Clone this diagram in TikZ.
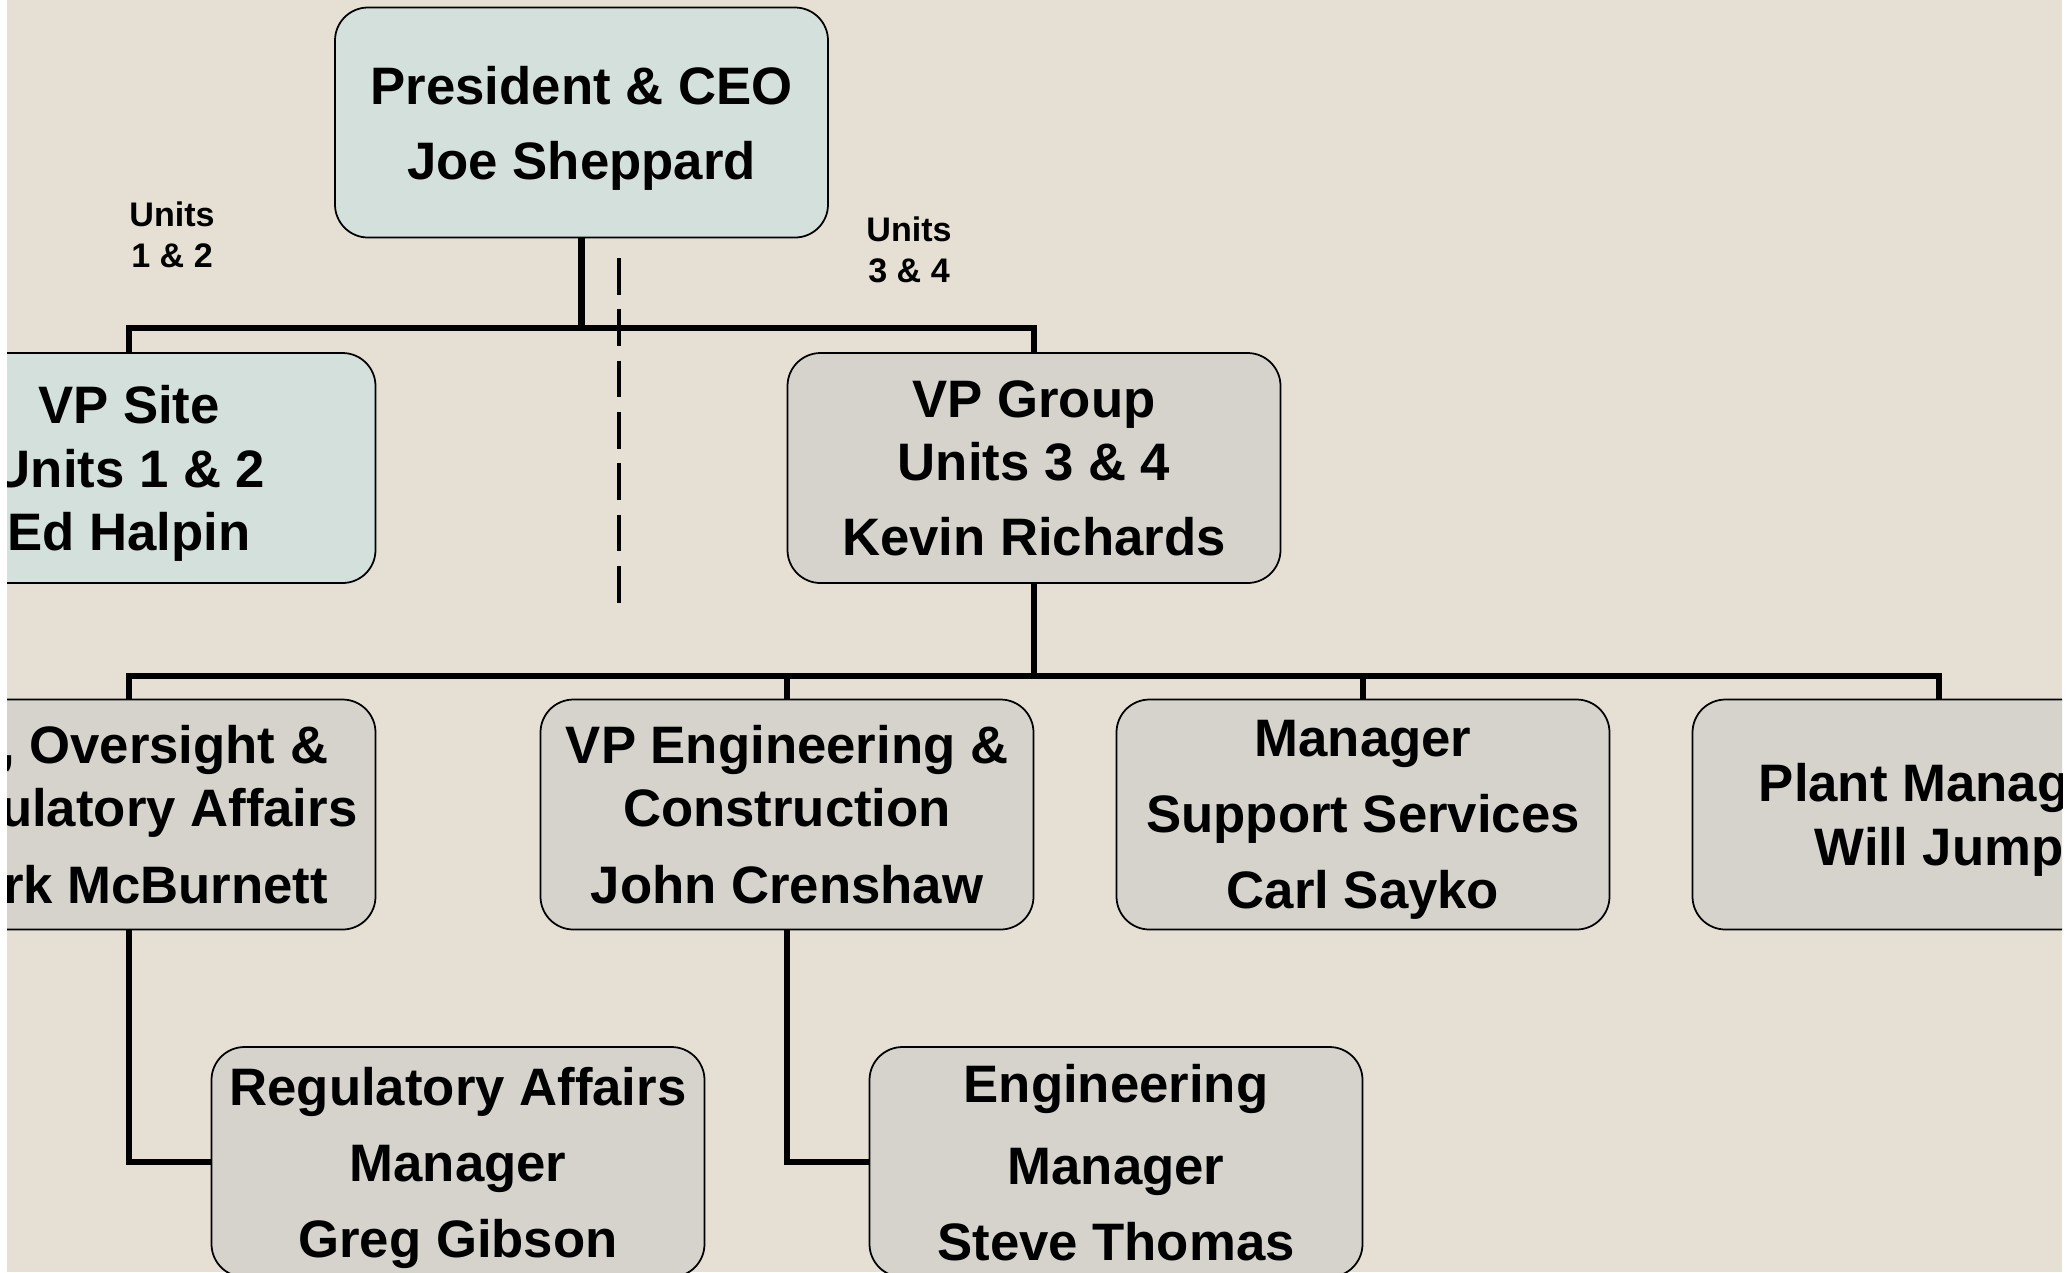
\documentclass[tikz,border=0pt]{standalone}
\usepackage{fontspec}
\setmainfont{Liberation Sans}
\usepackage{xcolor}
\usepackage{tikz}
\usetikzlibrary{positioning}

\definecolor{paper}{HTML}{E6DFD4}
\definecolor{bluebox}{HTML}{D3E0DC}
\definecolor{graybox}{HTML}{D6D3CD}

\begin{document}
\begin{tikzpicture}[
  box/.style={draw=black, line width=0.5pt, rounded corners=3.3mm, minimum width=4.93cm, minimum height=2.3cm, align=center, inner sep=0pt, text depth=0pt, execute at begin node={\rule{0pt}{12pt}}, font=\bfseries\fontsize{15}{18}\selectfont},
  bluefill/.style={box, fill=bluebox},
  grayfill/.style={box, fill=graybox},
  conn/.style={black, line width=1.8pt},
  dashline/.style={black, line width=1.1pt, dash pattern=on 3.67mm off 1.46mm},
  unitlabel/.style={align=center, inner sep=0pt, font=\bfseries\fontsize{9.7}{11.6}\selectfont}]
\useasboundingbox (0,0) rectangle (20.72,-12.72);
\fill[white] (0,0) rectangle (20.72,-12.72);
\clip (0.07,0) rectangle (20.62,-12.72);
\fill[paper] (0.07,0) rectangle (20.62,-12.72);

\node[bluefill] (ceo) at (5.815,-1.225) {President \& CEO\\[3.3pt]Joe Sheppard};
\node[bluefill] (site) at (1.29,-4.68) {VP Site\\Units 1 \& 2\\Ed Halpin};
\node[grayfill] (group) at (10.34,-4.68) {VP Group\\Units 3 \& 4\\[3.5pt]Kevin Richards};

\node[grayfill] (lic) at (1.29,-8.145) {\phantom{VP}, Oversight \&\\\phantom{Reg}ulatory Affairs\\[4pt]\phantom{Ma}rk McBurnett};
\node[grayfill] (eng) at (7.87,-8.145) {VP Engineering \&\\Construction\\[4pt]John Crenshaw};
\node[grayfill] (supp) at (13.63,-8.145) {Manager\\[3.6pt]Support Services\\[3.6pt]Carl Sayko};
\node[grayfill] (plant) at (19.39,-8.145) {Plant Manag\phantom{er}\\Will Jump};

\node[grayfill] (ra) at (4.58,-11.62) {Regulatory Affairs\\[3.6pt]Manager\\[3.6pt]Greg Gibson};
\node[grayfill] (engm) at (11.16,-11.62) {Engineering\\[5.3pt]Manager\\[3.6pt]Steve Thomas};

\node[unitlabel] (u12) at (1.72,-2.35) {Units\\1 \& 2};
\node[unitlabel] (u34) at (9.09,-2.50) {Units\\3 \& 4};

\coordinate (bar1) at (5.815,-3.28);
\draw[conn] (ceo.south) -- (bar1);
\draw[conn] (site.north) |- (bar1) -| (group.north);

\coordinate (dtop) at (6.19,-2.58);
\coordinate (dbot) at (6.19,-6.03);
\draw[dashline] (dtop) -- (dbot);

\coordinate (bar2) at (10.34,-6.76);
\draw[conn] (group.south) -- (bar2);
\draw[conn] (lic.north) |- (bar2) -| (plant.north);
\foreach \n in {eng,supp}
  \draw[conn] (\n.north) -- (\n.north |- bar2);

\draw[conn] (lic.south) |- (ra.west);
\draw[conn] (eng.south) |- (engm.west);
\end{tikzpicture}
\end{document}
